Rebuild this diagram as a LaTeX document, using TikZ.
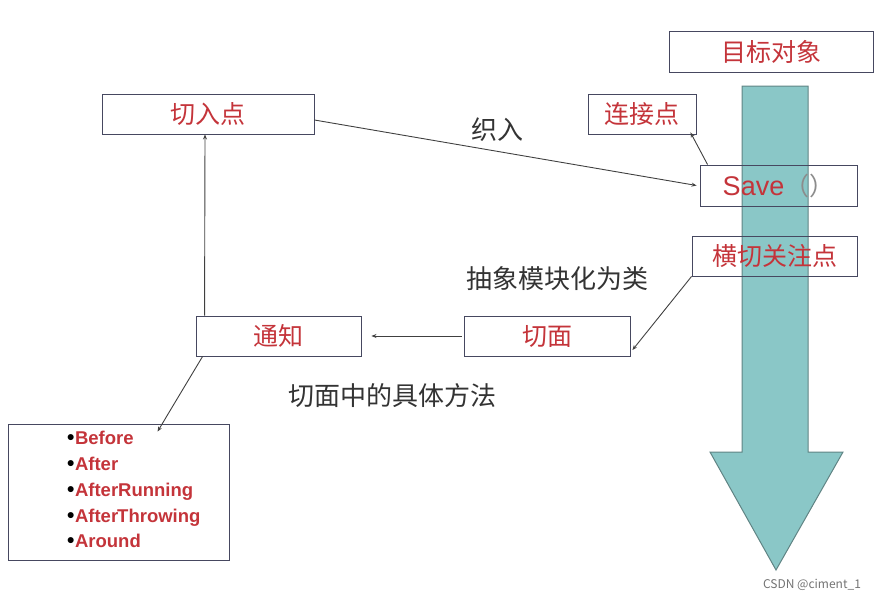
\documentclass[tikz,border=0pt]{standalone}
\usepackage{fontspec}
\setmainfont{Noto Sans CJK SC}
\newfontfamily\latinsans{Liberation Sans}
\usetikzlibrary{arrows.meta}
\definecolor{figT}{RGB}{138,199,199}
\definecolor{figTD}{RGB}{96,132,132}
\definecolor{figR}{RGB}{196,52,58}
\definecolor{figK}{RGB}{70,72,96}
\newcommand{\dotmark}{\textcolor{black}{\fontsize{21}{21}\selectfont•}\kern0.5pt}

\tikzset{
  lblbox/.style={draw=figK,line width=0.9pt,inner sep=0pt,text=figR,font=\fontsize{25}{27}\selectfont},
  conn/.style={-{Stealth[length=5pt,width=4pt]},line width=0.9pt,black!75},
  note/.style={font=\fontsize{26}{28}\selectfont,text=black!80}
}

\begin{document}
\begin{tikzpicture}[x=1pt,y=-1pt]
\useasboundingbox (0,0) rectangle (880,602);
% ---- big down arrow (target object flow)
\draw[fill=figT,draw=figTD,line width=1pt] (742,86)--(808,86)--(808,452)--(843,452)--(776,570)--(710,452)--(742,452)--cycle;
% ---- boxes
\node[lblbox,minimum width=204pt,minimum height=41pt] (target) at (771,51.5) {目标对象};
\node[lblbox,minimum width=108pt,minimum height=40pt] (joinpt) at (642,114) {连接点};
\node[lblbox,minimum width=212pt,minimum height=40pt] (cutpt) at (208,114) {切入点};
\node[lblbox,minimum width=157pt,minimum height=41pt] (save) at (778.5,185.5) {{\latinsans\fontsize{27}{29}\selectfont Save}\textcolor{black!45}{（）}};
\node[lblbox,minimum width=165pt,minimum height=40pt] (cross) at (774.5,256) {横切关注点};
\node[lblbox,minimum width=166pt,minimum height=40pt] (aspect) at (547,336) {切面};
\node[lblbox,minimum width=165pt,minimum height=40pt] (advice) at (278.5,336) {通知};
\node[lblbox,minimum width=221pt,minimum height=136pt] (kinds) at (118.5,492) {};
\node[anchor=north west,align=left,inner sep=0pt,text=figR,font=\latinsans\bfseries\fontsize{18.5}{25.8}\selectfont] (kindlist) at (67,431)
  {\dotmark Before\\ \dotmark After\\ \dotmark AfterRunning\\ \dotmark After\kern-1pt Throwing\\ \dotmark Around};
% ---- connectors
\draw[conn] (cutpt.east) ++(0,6) coordinate (w0) -- ([xshift=-3pt]save.west);
\draw[conn] ([xshift=8pt]save.north west) -- ([xshift=-6pt,yshift=2pt]joinpt.south east);
\draw[conn] (cross.south west) -- ([yshift=-14pt,xshift=2pt]aspect.east);
\draw[conn] ([xshift=-2pt]aspect.west) -- ([xshift=10pt]advice.east);
\draw[conn] ([xshift=9pt]advice.north west) -- ([xshift=-3pt]cutpt.south);
\draw[conn] ([xshift=7pt]advice.south west) -- ([xshift=150pt,yshift=-8pt]kinds.north west);
% ---- labels
\node[note] (weave) at (497,130) {织入};
\node[note] (abstr) at (557,279) {抽象模块化为类};
\node[note] (method) at (392,396) {切面中的具体方法};
\node[font=\fontsize{12}{14}\selectfont,text=black!55] (mark) at (812,585) {CSDN @ciment\_1};
\end{tikzpicture}
\end{document}
